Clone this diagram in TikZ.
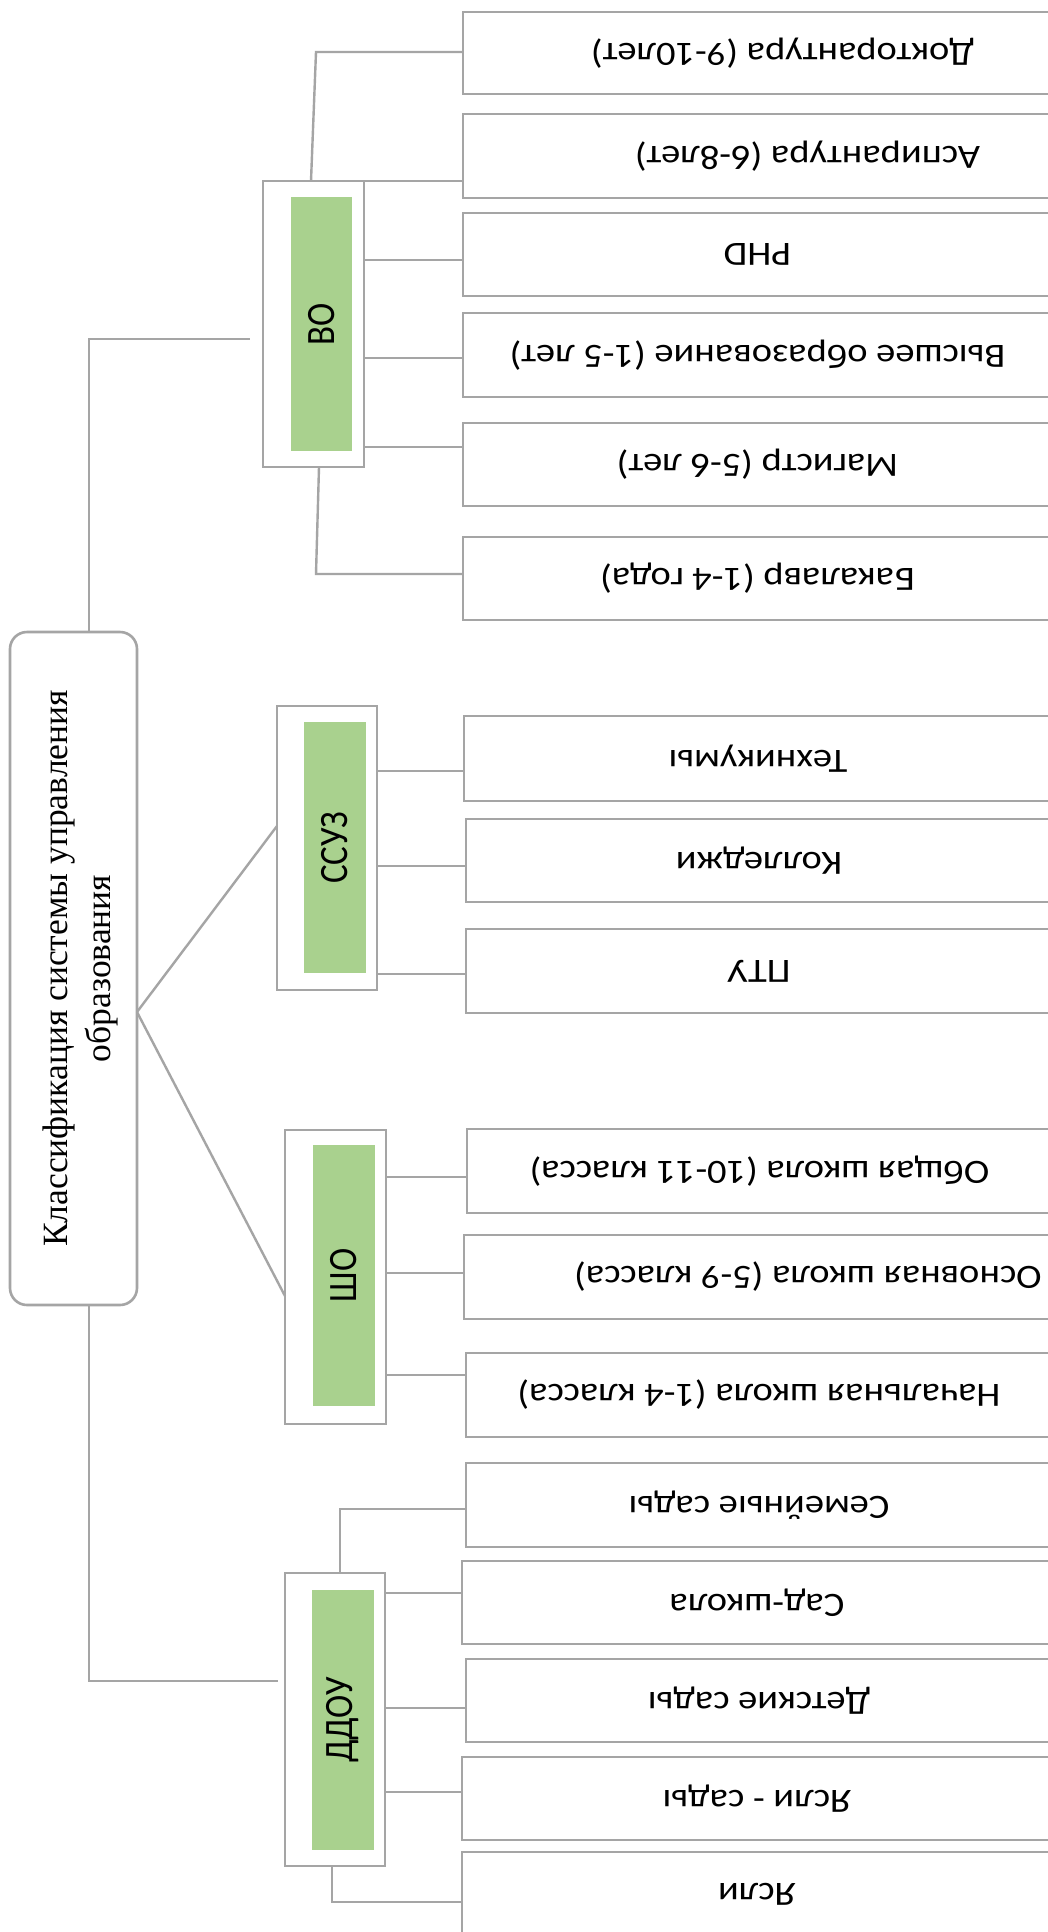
\documentclass[tikz,border=0pt]{standalone}
\usepackage{fontspec}
\usepackage{graphicx}
\setmainfont{Liberation Serif}
\newfontfamily\leaffont[FakeStretch=1.13]{Carlito}
\newfontfamily\catfont{Carlito}
\usetikzlibrary{calc}
\definecolor{linegray}{RGB}{165,165,165}
\definecolor{catgreen}{RGB}{169,209,142}
\tikzset{
  conn/.style={draw=linegray, line width=2.4pt},
  leafbox/.style={draw=linegray, line width=2.6pt, fill=white, inner sep=0pt, outer sep=0pt,
    font=\leaffont\fontsize{34}{40}\selectfont},
  catbox/.style={draw=linegray, line width=2.6pt, fill=white, inner sep=0pt, outer sep=0pt},
  greenbox/.style={fill=catgreen, inner sep=0pt, outer sep=0pt, font=\catfont\fontsize{35}{40}\selectfont},
  rootbox/.style={draw=linegray, line width=2.6pt, fill=white, rounded corners=17pt,
    inner sep=0pt, outer sep=0pt, font=\fontsize{35.5}{43}\selectfont}
}
\newcommand\mkleaf[6]{%
  \pgfmathsetmacro\lfcx{(#2+1052)/2}%
  \pgfmathsetmacro\lfcy{(#3+#4)/2}%
  \pgfmathsetmacro\lfw{1052-#2}%
  \pgfmathsetmacro\lfh{#4-#3}%
  \node[leafbox, minimum width=\lfw pt, minimum height=\lfh pt] (#1) at (\lfcx,\lfcy)
    {\rotatebox{180}{#5\hspace*{#6pt}}};%
}
\begin{document}
\begin{tikzpicture}[x=1pt,y=-1pt]
\useasboundingbox (0,0) rectangle (1048,1932);
\fill[white] (0,0) rectangle (1048,1932);
\clip (0,0) rectangle (1048,1932);

% root
\node[rootbox, minimum width=127pt, minimum height=673pt] (root) at (73.5,968.5)
  {\rotatebox{90}{\begin{tabular}{@{}c@{}}\rule{0pt}{44pt}Классификация системы управления\\образования\end{tabular}}};

% category boxes
\node[catbox, minimum width=101pt, minimum height=286pt] (vo) at (313.5,324) {};
\node[greenbox, minimum width=61pt, minimum height=254pt] (vo-in) at (321.5,324)
  {\rotatebox{90}{\scalebox{1}[1.15]{ВО}}};
\node[catbox, minimum width=100pt, minimum height=284pt] (ssuz) at (327,848) {};
\node[greenbox, minimum width=62pt, minimum height=251pt] (ssuz-in) at (335,847.5)
  {\rotatebox{90}{\scalebox{1}[1.15]{ССУЗ}}};
\node[catbox, minimum width=101pt, minimum height=294pt] (sho) at (335.5,1277) {};
\node[greenbox, minimum width=62pt, minimum height=261pt] (sho-in) at (344,1275.5)
  {\rotatebox{90}{\scalebox{1}[1.15]{ШО}}};
\node[catbox, minimum width=100pt, minimum height=293pt] (ddou) at (335,1719.5) {};
\node[greenbox, minimum width=62pt, minimum height=260pt] (ddou-in) at (343,1720)
  {\rotatebox{90}{\scalebox{1}[1.15]{ДДОУ}}};

% leaves
\mkleaf{lf-doc}{463}{12}{94}{Докторантура (9-10лет)}{50}
\mkleaf{lf-asp}{463}{114}{198}{Аспирантура (6-8лет)}{100}
\mkleaf{lf-phd}{463}{213}{296}{PHD}{0}
\mkleaf{lf-vys}{463}{313}{397}{Высшее образование (1-5 лет)}{0}
\mkleaf{lf-mag}{463}{423}{506}{Магистр (5-6 лет)}{0}
\mkleaf{lf-bak}{463}{537}{620}{Бакалавр (1-4 года)}{0}
\mkleaf{lf-tex}{464}{716}{801}{Техникумы}{0}
\mkleaf{lf-kol}{466}{819}{902}{Колледжи}{0}
\mkleaf{lf-ptu}{466}{929}{1013}{ПТУ}{0}
\mkleaf{lf-obs}{467}{1129}{1213}{Общая школа (10-11 класса)}{0}
\mkleaf{lf-osn}{464}{1235}{1319}{Основная школа (5-9 класса)}{100}
\mkleaf{lf-nach}{466}{1353}{1437}{Начальная школа (1-4 класса)}{0}
\mkleaf{lf-sem}{466}{1463}{1547}{Семейные сады}{0}
\mkleaf{lf-sad}{462}{1561}{1644}{Сад-школа}{0}
\mkleaf{lf-det}{466}{1659}{1742}{Детские сады}{0}
\mkleaf{lf-yas}{462}{1757}{1840}{Ясли - сады}{0}
\mkleaf{lf-ya}{462}{1852}{1936}{Ясли}{0}

% root connectors
\coordinate (trunk) at (89,339);
\coordinate (voend) at (250,339);
\coordinate (trunkb) at (89,1681);
\coordinate (ddend) at (278,1681);
\coordinate (apex) at (137,1012);
\draw[conn] (root.north -| trunk) -- (trunk) -- (voend);
\draw[conn] (root.south -| trunkb) -- (trunkb) -- (ddend);
\draw[conn] (root.east |- apex) -- ($(ssuz.west)+(0,-22)$);
\draw[conn] (root.east |- apex) -- ($(sho.west)+(0,19)$);

% VO connectors
\draw[conn] (vo.north -| 311,0) -- (316,52) -- (lf-doc.west |- 0,52);
\draw[conn] (vo.north east) -- (lf-asp.west |- vo.north east);
\draw[conn] (vo.east |- 0,260) -- (lf-phd.west |- 0,260);
\draw[conn] (vo.east |- 0,358) -- (lf-vys.west |- 0,358);
\draw[conn] (vo.east |- 0,447) -- (lf-mag.west |- 0,447);
\draw[conn] (vo.south -| 319,0) -- (316,574) -- (lf-bak.west |- 0,574);

% SSUZ connectors
\draw[conn] (ssuz.east |- 0,771) -- (lf-tex.west |- 0,771);
\draw[conn] (ssuz.east |- 0,866) -- (lf-kol.west |- 0,866);
\draw[conn] (ssuz.east |- 0,974) -- (lf-ptu.west |- 0,974);

% SHO connectors
\draw[conn] (sho.east |- 0,1177) -- (lf-obs.west |- 0,1177);
\draw[conn] (sho.east |- 0,1273) -- (lf-osn.west |- 0,1273);
\draw[conn] (sho.east |- 0,1375) -- (lf-nach.west |- 0,1375);

% DDOU connectors
\draw[conn] (ddou.north -| 340,0) -- (340,1509) -- (lf-sem.west |- 0,1509);
\draw[conn] (ddou.east |- 0,1593) -- (lf-sad.west |- 0,1593);
\draw[conn] (ddou.east |- 0,1708) -- (lf-det.west |- 0,1708);
\draw[conn] (ddou.east |- 0,1792) -- (lf-yas.west |- 0,1792);
\draw[conn] (ddou.south -| 332,0) -- (332,1902) -- (lf-ya.west |- 0,1902);
\end{tikzpicture}
\end{document}
